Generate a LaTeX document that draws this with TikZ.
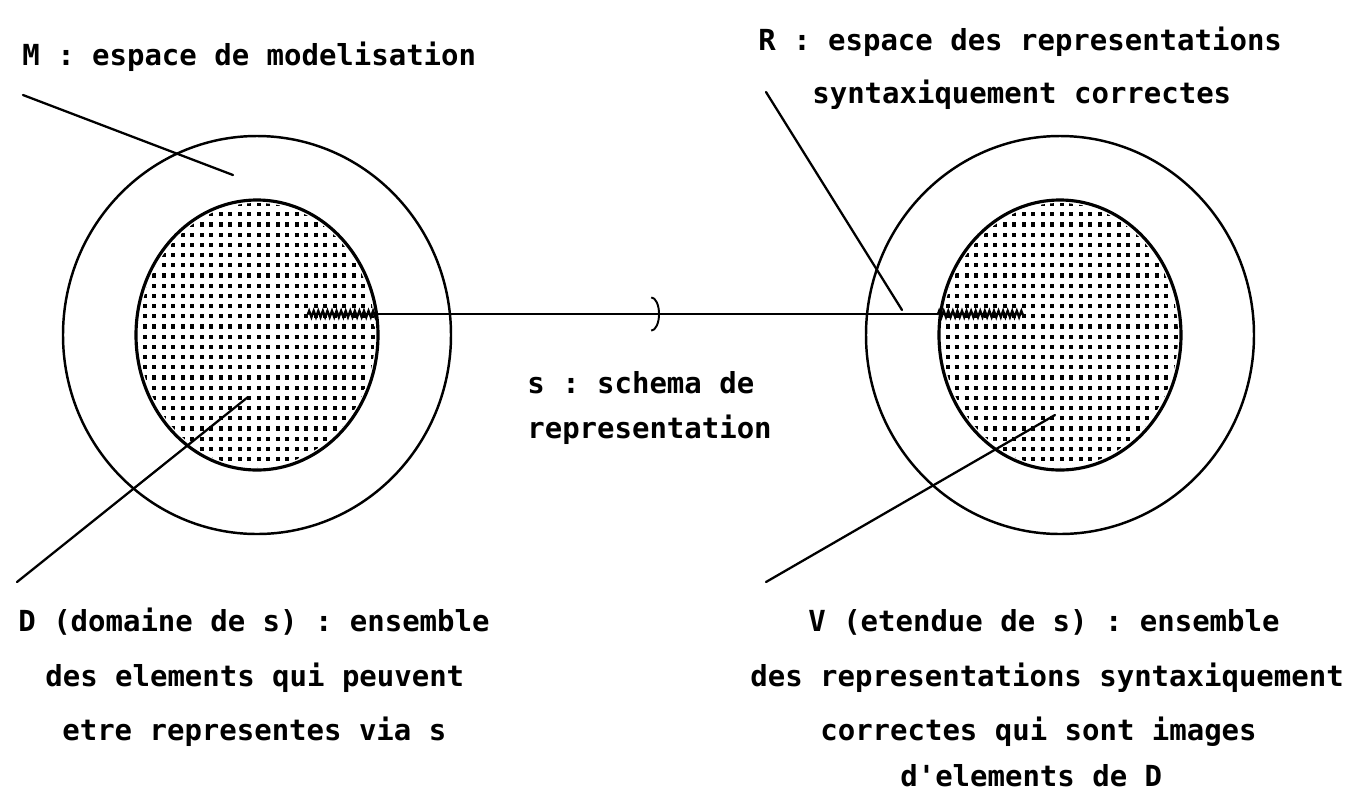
\documentclass[tikz,border=0pt]{standalone}
\usepackage{fontspec}
\setmonofont{DejaVu Sans Mono}
\usetikzlibrary{arrows.meta,decorations.pathmorphing}

\tikzset{
  lbl/.style={font=\ttfamily\bfseries\fontsize{16.5}{20}\selectfont,inner sep=0pt,anchor=west},
  ring/.style={line width=1.4pt},
  core/.style={line width=1.8pt},
  pointer/.style={line width=1.3pt},
  link/.style={line width=1.1pt},
  wiggle/.style={line width=1.3pt,decorate,decoration={zigzag,amplitude=1.8pt,segment length=2.6pt}}
}

\begin{document}
\begin{tikzpicture}[x=0.02cm,y=-0.02cm,line cap=round]
\useasboundingbox (0,0) rectangle (1367,796);
% centres of the two spaces
\coordinate (mc) at (257,335);
\coordinate (rc) at (1060,335);
% dotted domains
\foreach \cx in {257,1060}{
  \begin{scope}
  \clip (\cx,335) ellipse (118 and 132);
  \foreach \i in {0,...,26}{
    \foreach \j in {0,...,27}{
      \fill ({\cx-124+\i*9.5},{202+\j*10.2}) rectangle +(4.2,4.2);
    }
  }
  \end{scope}
}
\draw[core] (mc) ellipse (121 and 135);
\draw[core] (rc) ellipse (121 and 135);
\draw[ring] (mc) ellipse (194 and 199);
\draw[ring] (rc) ellipse (194 and 199);
% the representation scheme
\coordinate (l1) at (308,314);
\coordinate (l2) at (377,314);
\coordinate (mid) at (660,314);
\coordinate (r1) at (938,314);
\coordinate (r2) at (1023,314);
\draw[wiggle] (l1) -- (l2);
\draw[link,-{Arc Barb[width=20pt,length=5pt]}] (l2) -- (mid);
\draw[link] (mid) -- (r1);
\draw[wiggle] (r1) -- (r2);
% labels
\node[lbl] (mlab) at (22,57) {M : espace de modelisation};
\node[lbl] (rlab) at (758,42) {R : espace des representations};
\node[lbl] (rlab2) at (812,95) {syntaxiquement correctes};
\node[lbl] (slab) at (527,383) {s : schema de};
\node[lbl] (slab2) at (527,430) {representation};
\node[lbl] (dlab) at (18,622) {D (domaine de s) : ensemble};
\node[lbl] (dlab2) at (45,678) {des elements qui peuvent};
\node[lbl] (dlab3) at (62,732) {etre representes via s};
\node[lbl] (vlab) at (808,622) {V (etendue de s) : ensemble};
\node[lbl] (vlab2) at (750,678) {des representations syntaxiquement};
\node[lbl] (vlab3) at (820,732) {correctes qui sont images};
\node[lbl] (vlab4) at (900,776) {d'elements de D};
% pointers
\coordinate (m0) at (23,95);   \coordinate (m1) at (233,175);
\coordinate (d0) at (17,582);  \coordinate (d1) at (248,397);
\coordinate (r0) at (766,92);  \coordinate (rr) at (902,310);
\coordinate (v0) at (766,582); \coordinate (v1) at (1055,415);
\draw[pointer] (m0) -- (m1);
\draw[pointer] (d0) -- (d1);
\draw[pointer] (r0) -- (rr);
\draw[pointer] (v0) -- (v1);
\end{tikzpicture}
\end{document}
